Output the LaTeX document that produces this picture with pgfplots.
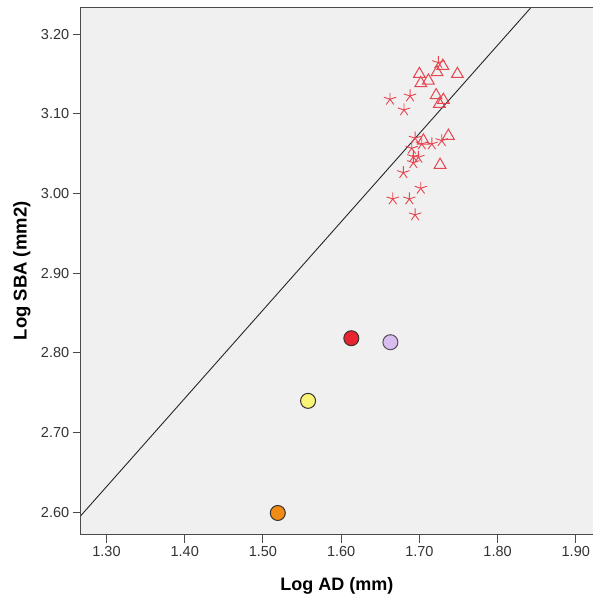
\documentclass[border=0pt]{standalone}
\usepackage{pgfplots}
\pgfplotsset{compat=1.18}
\usepackage{fontspec}
\setmainfont{Liberation Sans}
\definecolor{bgc}{HTML}{F0F0F0}
\definecolor{axgray}{HTML}{4A4A4A}
\definecolor{labgray}{HTML}{333333}
\definecolor{mred}{RGB}{230,70,80}
\definecolor{cred}{RGB}{232,36,48}
\definecolor{cpurple}{RGB}{216,190,240}
\definecolor{cyellow}{RGB}{248,244,120}
\definecolor{corange}{RGB}{240,140,20}
\definecolor{cedge}{HTML}{3A3030}
\begin{document}
\begin{tikzpicture}
\begin{axis}[
  scale only axis, width=512.3pt, height=527.2pt,
  xmin=1.267, xmax=1.922, ymin=2.572, ymax=3.2336,
  axis background/.style={fill=bgc},
  axis line style={draw=none},
  tick align=outside, xtick pos=bottom, ytick pos=left,
  xtick={1.3,1.4,1.5,1.6,1.7,1.8,1.9},
  ytick={2.6,2.7,2.8,2.9,3.0,3.1,3.2},
  major tick length=8pt,
  tick style={line width=1pt, color=axgray},
  /pgf/number format/.cd, fixed, fixed zerofill, precision=2, assume math mode=true,
  /pgfplots/.cd,
  ticklabel style={font=\fontsize{14.5}{16}\selectfont, text=labgray},
  xlabel={Log AD (mm)}, ylabel={Log SBA (mm2)},
  every axis x label/.style={at={(axis description cs:0.5,-0.0977)}, anchor=center, font=\fontsize{18}{20}\selectfont\bfseries, text=black},
  every axis y label/.style={at={(axis description cs:-0.1146,0.5)}, anchor=center, rotate=90, font=\fontsize{18.5}{20}\selectfont\bfseries, text=black},
  clip=true,
]
\addplot[no marks, color=black!85, line width=0.9pt] coordinates {(1.20,2.5212) (1.95,3.3522)};
% stars
\addplot[only marks, mark=star, mark size=6.5pt, color=mred, line width=0.9pt] coordinates {
(1.7243,3.1641) (1.6625,3.1182) (1.6881,3.1223) (1.6804,3.1048)
(1.6945,3.0693) (1.7286,3.0663) (1.7159,3.0621) (1.7031,3.0621)
(1.6903,3.0567) (1.6923,3.0462) (1.6987,3.0454) (1.6923,3.0386)
(1.6795,3.0261) (1.7018,3.0065) (1.6660,2.9931) (1.6872,2.9931)
(1.6945,2.9731)};
% triangles
\addplot[only marks, mark=triangle, mark size=6.8pt, color=mred, line width=1pt] coordinates {
(1.7226,3.1520) (1.7300,3.1600) (1.7486,3.1498) (1.7000,3.1498)
(1.7018,3.1383) (1.7115,3.1415) (1.7214,3.1231) (1.7307,3.1173)
(1.7256,3.1123) (1.7371,3.0722) (1.7051,3.0663) (1.7265,3.0358)};
% circles
\addplot[only marks, mark=*, mark size=7.5pt, draw=cedge, fill=corange, line width=1pt] coordinates {(1.519,2.599)};
\addplot[only marks, mark=*, mark size=7.5pt, draw=cedge, fill=cyellow, line width=1pt] coordinates {(1.5577,2.7397)};
\addplot[only marks, mark=*, mark size=7.5pt, draw=cedge, fill=cred, line width=1pt] coordinates {(1.613,2.8183)};
\addplot[only marks, mark=*, mark size=7.5pt, draw=cedge!80!cpurple, fill=cpurple, line width=1pt] coordinates {(1.663,2.8133)};
\end{axis}
\draw[axgray, line width=1.2pt] (current axis.north east) -- (current axis.north west) -- (current axis.south west) -- (current axis.south east);
\pgfresetboundingbox
\path[use as bounding box] ([xshift=-80.7pt,yshift=-63.5pt]current axis.south west) rectangle ([yshift=7.3pt]current axis.north east);
\end{tikzpicture}
\end{document}
